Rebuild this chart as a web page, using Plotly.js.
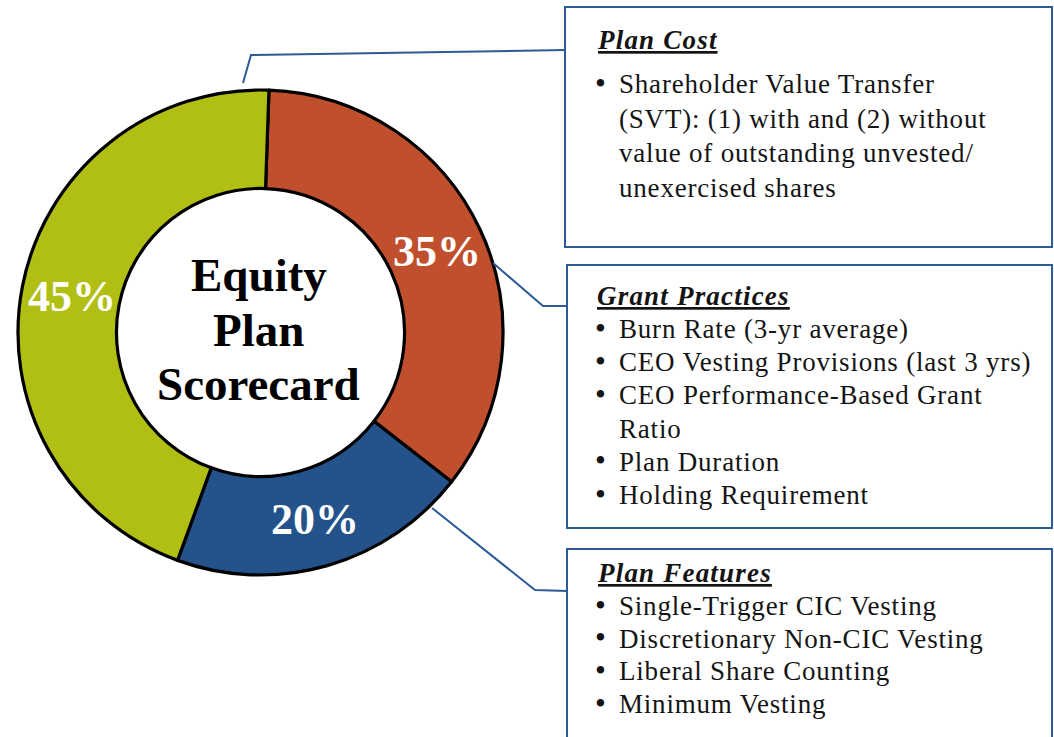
<!DOCTYPE html>
<html>
<head>
<meta charset="utf-8">
<script src="https://cdn.plot.ly/plotly-3.0.1.min.js"></script>
<style>html,body{margin:0;padding:0;background:#fff;}#chart{width:1054px;height:737px;}</style>
</head>
<body>
<div id="chart"></div>
<script>
// ---- data ----
const categories = ['Grant Practices', 'Plan Features', 'Plan Cost'];
const weights = [35, 20, 45];
const sliceColors = ['#BF4F2D', '#24528A', '#B1BE13'];
const centerLines = ['Equity', 'Plan', 'Scorecard'];
const planCostItems = ['Shareholder Value Transfer\n(SVT): (1) with and (2) without\nvalue of outstanding unvested/\nunexercised shares'];
const grantPracticeItems = ['Burn Rate (3-yr average)', 'CEO Vesting Provisions (last 3 yrs)', 'CEO Performance-Based Grant\nRatio', 'Plan Duration', 'Holding Requirement'];
const planFeatureItems = ['Single-Trigger CIC Vesting', 'Discretionary Non-CIC Vesting', 'Liberal Share Counting', 'Minimum Vesting'];

// ---- layout geometry (pixels) ----
const W = 1054, H = 737;
const cx = 260.5, cy = 332.5, R = 242.5;
const HOLE = 0.594, ROT = 2;
const boxColor = '#2D5B97';
const serif = 'Liberation Serif, Times New Roman, serif';

const pie = {
  type: 'pie',
  labels: categories,
  values: weights,
  sort: false,
  direction: 'clockwise',
  rotation: ROT,
  hole: HOLE,
  marker: {colors: sliceColors, line: {color: '#000', width: 3.2}},
  textinfo: 'none',
  domain: {x: [(cx - R) / W, (cx + R) / W], y: [1 - (cy + R) / H, 1 - (cy - R) / H]},
  hoverinfo: 'label+percent',
  showlegend: false
};

const shapes = [];
const annotations = [];

// percent labels at the middle of each ring segment, derived from the values
const total = weights.reduce((a, b) => a + b, 0);
let cum = 0;
const rMid = (R + R * HOLE) / 2;
weights.forEach((v, i) => {
  const mid = (ROT + (cum + v / 2) / total * 360) * Math.PI / 180;
  cum += v;
  annotations.push({xref: 'x', yref: 'y', x: cx + rMid * Math.sin(mid) + 1, y: cy - rMid * Math.cos(mid) + 1,
    text: '<b>' + Math.round(v / total * 100) + '%</b>', showarrow: false, xanchor: 'center', yanchor: 'middle',
    font: {family: serif, size: 44, color: '#fff'}});
});

function box(x0, y0, x1, y1) {
  shapes.push({type: 'rect', xref: 'x', yref: 'y', x0, y0, x1, y1, line: {color: boxColor, width: 2}, fillcolor: 'rgba(0,0,0,0)'});
}
function leader(pts) {
  let p = 'M ' + pts[0][0] + ' ' + pts[0][1];
  for (let i = 1; i < pts.length; i++) p += ' L ' + pts[i][0] + ' ' + pts[i][1];
  shapes.push({type: 'path', xref: 'x', yref: 'y', path: p, line: {color: boxColor, width: 2}});
}
function txt(x, y, text, size, anchor) {
  annotations.push({xref: 'x', yref: 'y', x, y, text, showarrow: false, xanchor: anchor || 'left', yanchor: 'middle',
    font: {family: serif, size: size, color: '#141414'}});
}
function spaced(s, px) { return '<span style="letter-spacing:' + px + 'px">' + s + '</span>'; }
function block(heading, items, yHead, yFirst, step) {
  txt(595, yHead, '<b><i><u>' + spaced(heading, 1.2) + '</u></i></b>', 27);
  let y = yFirst;
  items.forEach(item => {
    const lines = item.split('\n');
    txt(593, y - 1, '•', 31);
    lines.forEach(l => { txt(617, y, spaced(l, 0.8), 27); y += step; });
  });
}

box(565, 7, 1052, 247);
box(567, 265, 1052, 528);
box(567, 549, 1052, 760);
leader([[243, 83], [251, 55], [565, 50]]);
leader([[493, 263], [543, 306], [567, 306]]);
leader([[432, 508], [535, 590], [567, 591]]);

block('Plan Cost', planCostItems, 40, 84, 34.7);
block('Grant Practices', grantPracticeItems, 296, 329, 33.2);
block('Plan Features', planFeatureItems, 573, 606, 32.7);

const centerY = [275, 330, 384];
centerLines.forEach((t, i) => {
  annotations.push({xref: 'x', yref: 'y', x: cx - 2, y: centerY[i], text: '<b>' + t + '</b>', showarrow: false,
    xanchor: 'center', yanchor: 'middle', font: {family: serif, size: 47, color: '#000'}});
});

const layout = {
  width: W, height: H,
  margin: {l: 0, r: 0, t: 0, b: 0},
  paper_bgcolor: '#fff', plot_bgcolor: 'rgba(0,0,0,0)',
  xaxis: {range: [0, W], visible: false, fixedrange: true},
  yaxis: {range: [H, 0], visible: false, fixedrange: true},
  shapes, annotations, showlegend: false
};

Plotly.newPlot('chart', [pie], layout, {displayModeBar: false, staticPlot: true});
</script>
</body>
</html>
